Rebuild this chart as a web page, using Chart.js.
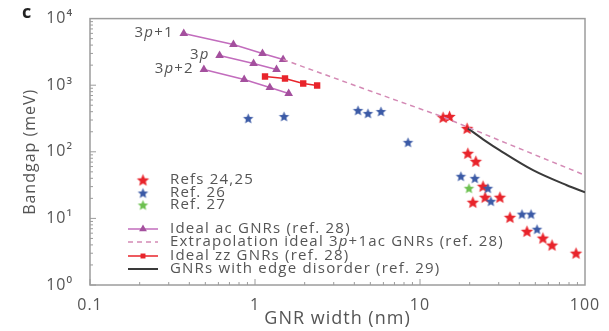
<!DOCTYPE html>
<html>
<head>
<meta charset="utf-8">
<script src="https://cdn.jsdelivr.net/npm/chart.js@4.4.0/dist/chart.umd.min.js"></script>
<style>
  html, body { margin: 0; padding: 0; background: #fff; }
  #wrap { width: 609px; height: 331px; }
</style>
</head>
<body>
<div id="wrap"><canvas id="gapChart" width="609" height="331"></canvas></div>
<script>
// axis ticks
const xTickValues = [0.1, 1, 10, 100];
const xTickLabels = ['0.1', '1', '10', '100'];
const yTickValues = [1, 10, 100, 1000, 10000];
const yTickLabels = ['10⁰', '10¹', '10²', '10³', '10⁴'];

// Refs 24,25 (red stars)
const refs2425Width = [13.8, 15.1, 19.3, 19.5, 21.8, 24.1, 20.9, 24.8, 30.5, 35.1, 44.5, 55.6, 63.1, 88.2];
const refs2425Gap   = [329, 340, 225, 95, 72, 30.4, 17.5, 20.8, 20.8, 10.4, 6.4, 5.06, 3.97, 3.01];
// Ref. 26 (blue stars)
const ref26Width = [0.91, 1.5, 4.21, 4.84, 5.8, 8.46, 17.7, 21.5, 25.8, 26.9, 41.5, 47.1, 51.2];
const ref26Gap   = [318, 340, 419, 378, 404, 139, 43, 40, 28.4, 18.1, 11.6, 11.6, 6.9];
// Ref. 27 (green star)
const ref27Width = [19.8];
const ref27Gap   = [28.4];

// ideal armchair GNRs, three families
const ac3p1Width = [0.37, 0.74, 1.11, 1.48];
const ac3p1Gap   = [5960, 4075, 2990, 2430];
const ac3pWidth  = [0.61, 0.98, 1.35];
const ac3pGap    = [2790, 2120, 1720];
const ac3p2Width = [0.49, 0.86, 1.23, 1.6];
const ac3p2Gap   = [1720, 1220, 925, 751];

// extrapolation of 3p+1 family
const extraWidth = [1.48, 5, 14, 30, 100];
const extraGap   = [2430, 817, 329, 150, 44.5];

// ideal zigzag GNRs
const zzWidth = [1.15, 1.52, 1.96, 2.38];
const zzGap   = [1352, 1262, 1062, 991];

// GNRs with edge disorder
const edgeWidth = [19.5, 25, 30.5, 48.4, 77.6, 100];
const edgeGap   = [225, 145, 105, 53, 31.5, 24.7];

const RED = '#e8242b', BLUE = '#3b5aa6', GREEN = '#6cc04f';
const AC_LINE = '#c26cbd', AC_MARK = '#a4509e', DASH = '#d48ab5', BLACK = '#3a3a3a';
const TEXT = '#555';
const FONT = '"Open Sans", sans-serif';

function pts(xs, ys) { return xs.map((x, i) => ({ x: x, y: ys[i] })); }

function starImage(color, r) {
  const c = document.createElement('canvas');
  const s = Math.ceil(r * 2 + 2);
  c.width = s; c.height = s;
  const g = c.getContext('2d');
  g.fillStyle = color;
  g.beginPath();
  for (let i = 0; i < 10; i++) {
    const rad = i % 2 === 0 ? r : r * 0.45;
    const a = -Math.PI / 2 + i * Math.PI / 5;
    const px = s / 2 + rad * Math.cos(a), py = s / 2 + 0.5 + rad * Math.sin(a);
    i === 0 ? g.moveTo(px, py) : g.lineTo(px, py);
  }
  g.closePath();
  g.fill();
  return c;
}
const redStar = starImage(RED, 6.5);
const blueStar = starImage(BLUE, 5.5);
const greenStar = starImage(GREEN, 5.5);

// 3p style text with italic p
function richText(ctx, parts, x, y, align, size) {
  const fonts = parts.map(p => (p.i ? 'italic ' : '') + size + 'px ' + FONT);
  let total = 0;
  const widths = parts.map((p, k) => { ctx.font = fonts[k]; const w = ctx.measureText(p.t).width; total += w; return w; });
  let cx = align === 'right' ? x - total : x;
  ctx.textAlign = 'left';
  ctx.textBaseline = 'middle';
  parts.forEach((p, k) => { ctx.font = fonts[k]; ctx.fillText(p.t, cx, y); cx += widths[k]; });
}

const extras = {
  id: 'extras',
  beforeDraw(chart) {
    // the source figure is slightly stretched sideways: widen text a bit
    chart.ctx.letterSpacing = '1px';
  },
  beforeDatasetsDraw(chart) {
    const { ctx, chartArea: a, scales: { x, y } } = chart;
    ctx.save();
    ctx.strokeStyle = '#9c9c9c';
    ctx.lineWidth = 1.5;
    ctx.strokeRect(a.left, a.top, a.right - a.left, a.bottom - a.top);
    ctx.lineWidth = 1;
    ctx.beginPath();
    for (let d = 0.1; d < 100; d *= 10) {
      for (let k = 1; k < 10; k++) {
        const px = x.getPixelForValue(d * k);
        const len = k === 1 ? 6 : 3;
        ctx.moveTo(px, a.bottom); ctx.lineTo(px, a.bottom - len);
      }
    }
    for (let d = 1; d < 10000; d *= 10) {
      for (let k = 1; k < 10; k++) {
        const py = y.getPixelForValue(d * k);
        const len = k === 1 ? 6 : 3;
        ctx.moveTo(a.left, py); ctx.lineTo(a.left + len, py);
      }
    }
    ctx.stroke();
    ctx.restore();
  },
  afterDraw(chart) {
    const { ctx, chartArea } = chart;
    ctx.save();
    // panel letter, placed from the plot's left edge
    ctx.letterSpacing = '0px';
    ctx.fillStyle = '#222';
    ctx.font = 'bold 18px ' + FONT;
    ctx.textAlign = 'left';
    ctx.textBaseline = 'middle';
    ctx.fillText('c', chartArea.left - 68, 13);

    ctx.letterSpacing = '1.2px';
    ctx.fillStyle = TEXT;
    // family labels next to first triangle of each series
    const fam = [[3, '+1'], [4, ''], [5, '+2']];
    fam.forEach(([idx, tail]) => {
      const p = chart.getDatasetMeta(idx).data[0];
      const parts = [{ t: '3' }, { t: 'p', i: true }];
      if (tail) parts.push({ t: tail });
      richText(ctx, parts, p.x - 10, p.y - 1, 'right', 15);
    });

    // legend
    const lx = 143, tx = 170;
    const H = Chart.helpers;
    ctx.textAlign = 'left';
    const markers = [[redStar, 'Refs 24,25', 180], [blueStar, 'Ref. 26', 193], [greenStar, 'Ref. 27', 205]];
    markers.forEach(([img, label, ly]) => {
      ctx.drawImage(img, lx - img.width / 2, ly - img.height / 2);
      ctx.fillStyle = TEXT;
      ctx.font = '15px ' + FONT;
      ctx.textAlign = 'left';
      ctx.fillText(label, tx, ly);
    });
    const line = (ly, color, width, dash) => {
      ctx.save();
      ctx.strokeStyle = color; ctx.lineWidth = width; ctx.setLineDash(dash);
      ctx.beginPath(); ctx.moveTo(128, ly); ctx.lineTo(158, ly); ctx.stroke();
      ctx.restore();
    };
    line(229, AC_LINE, 1.5, []);
    ctx.fillStyle = AC_MARK;
    H.drawPoint(ctx, { pointStyle: 'triangle', radius: 4.5, rotation: 0, borderWidth: 0 }, lx, 229);
    line(242, DASH, 1.5, [5, 4]);
    line(256, RED, 1.5, []);
    ctx.fillStyle = RED;
    H.drawPoint(ctx, { pointStyle: 'rect', radius: 3.5, rotation: 0, borderWidth: 0 }, lx, 256);
    line(269, BLACK, 2, []);

    ctx.fillStyle = TEXT;
    ctx.font = '15px ' + FONT;
    ctx.fillText('Ideal ac GNRs (ref. 28)', tx, 229);
    richText(ctx, [{ t: 'Extrapolation ideal 3' }, { t: 'p', i: true }, { t: '+1ac GNRs (ref. 28)' }], tx, 242, 'left', 15);
    ctx.font = '15px ' + FONT;
    ctx.fillText('Ideal zz GNRs (ref. 28)', tx, 256);
    ctx.fillText('GNRs with edge disorder (ref. 29)', tx, 269);
    ctx.restore();
  }
};

const acLine = (data, label) => ({
  label: label, data: data, showLine: true,
  borderColor: AC_LINE, borderWidth: 1.5,
  pointStyle: 'triangle', pointRadius: 5, pointBackgroundColor: AC_MARK, pointBorderColor: AC_MARK, pointBorderWidth: 0
});

new Chart(document.getElementById('gapChart'), {
  type: 'scatter',
  data: {
    datasets: [
      { label: 'Extrapolation ideal 3p+1ac GNRs (ref. 28)', data: pts(extraWidth, extraGap), showLine: true,
        borderColor: DASH, borderWidth: 1.5, borderDash: [5, 4], pointRadius: 0 },
      { label: 'GNRs with edge disorder (ref. 29)', data: pts(edgeWidth, edgeGap), showLine: true,
        borderColor: BLACK, borderWidth: 2, pointRadius: 0, cubicInterpolationMode: 'monotone' },
      { label: 'Ideal zz GNRs (ref. 28)', data: pts(zzWidth, zzGap), showLine: true,
        borderColor: RED, borderWidth: 1.5, pointStyle: 'rect', pointRadius: 4.5,
        pointBackgroundColor: RED, pointBorderWidth: 0 },
      acLine(pts(ac3p1Width, ac3p1Gap), '3p+1'),
      acLine(pts(ac3pWidth, ac3pGap), '3p'),
      acLine(pts(ac3p2Width, ac3p2Gap), '3p+2'),
      { label: 'Ref. 26', data: pts(ref26Width, ref26Gap), pointStyle: blueStar },
      { label: 'Ref. 27', data: pts(ref27Width, ref27Gap), pointStyle: greenStar },
      { label: 'Refs 24,25', data: pts(refs2425Width, refs2425Gap), pointStyle: redStar }
    ]
  },
  options: {
    responsive: false,
    animation: false,
    layout: { padding: { top: 18, right: 24, left: 0, bottom: 0 } },
    plugins: { legend: { display: false }, tooltip: { enabled: false } },
    scales: {
      x: {
        type: 'logarithmic', min: 0.1, max: 100,
        afterBuildTicks: s => { s.ticks = xTickValues.map(v => ({ value: v })); },
        afterFit: s => { s.height = 46; },
        ticks: { autoSkip: false, maxRotation: 0, padding: 3, color: TEXT, font: { family: FONT, size: 16 },
                 callback: (v, i) => xTickLabels[i] },
        grid: { display: false },
        border: { display: false },
        title: { display: true, text: 'GNR width (nm)', color: TEXT, font: { family: FONT, size: 18 }, padding: { top: 0, bottom: 1 } }
      },
      y: {
        type: 'logarithmic', min: 1, max: 10000,
        afterBuildTicks: s => { s.ticks = yTickValues.map(v => ({ value: v })); },
        afterFit: s => { s.width = 90; },
        ticks: { autoSkip: false, padding: 9, color: TEXT, font: { family: FONT, size: 16 },
                 callback: (v, i) => yTickLabels[i] },
        grid: { display: false },
        border: { display: false },
        title: { display: true, text: 'Bandgap (meV)', color: TEXT, font: { family: FONT, size: 16 }, padding: { top: 21, bottom: 0 } }
      }
    }
  },
  plugins: [extras]
});
</script>
</body>
</html>
